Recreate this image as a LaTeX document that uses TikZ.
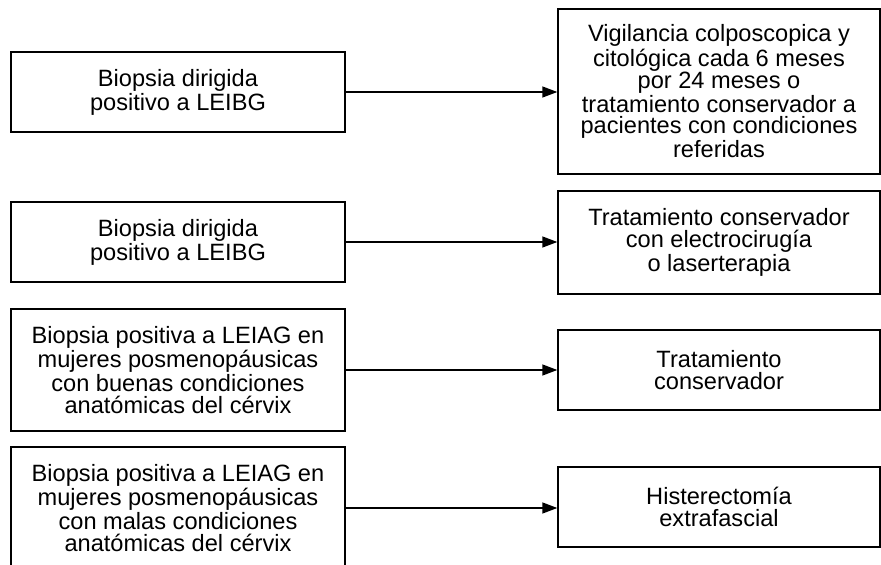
\documentclass[tikz,border=0pt]{standalone}
\usepackage{fontspec}
\setmainfont{Liberation Sans}
\usetikzlibrary{arrows.meta}

\tikzset{
  leftbox/.style={draw,line width=0.7pt,minimum width=167pt,align=center,inner sep=2pt},
  rightbox/.style={draw,line width=0.7pt,minimum width=161pt,align=center,inner sep=2pt},
  link/.style={line width=0.7pt,->}
}

\begin{document}
\begin{tikzpicture}[>={Triangle[length=7.5pt,width=5.5pt]},x=0.5pt,y=-0.5pt,
    font=\fontsize{11.8}{10.9}\selectfont]

  % --- page frame ---
  \clip (0,0) rectangle (881,565);

  % --- findings (left column) ---
  \node[leftbox,minimum height=40pt] (bx1) at (178,92)
        {Biopsia dirigida\\positivo a LEIBG};
  \node[leftbox,minimum height=40pt] (bx2) at (178,242)
        {Biopsia dirigida\\positivo a LEIBG};
  \node[leftbox,minimum height=61pt] (bx3) at (178,370)
        {Biopsia positiva a LEIAG en\\mujeres posmenopáusicas\\con buenas condiciones\\anatómicas del cérvix};
  \node[leftbox,minimum height=61pt] (bx4) at (178,508)
        {Biopsia positiva a LEIAG en\\mujeres posmenopáusicas\\con malas condiciones\\anatómicas del cérvix};

  % --- management (right column) ---
  \node[rightbox,minimum height=82.5pt] (tx1) at (719,91.5)
        {Vigilancia colposcopica y\\citológica cada 6 meses\\por 24 meses o\\tratamiento conservador a\\pacientes con condiciones\\referidas};
  \node[rightbox,minimum height=51.5pt] (tx2) at (719,242.5)
        {Tratamiento conservador\\con electrocirugía\\o laserterapia};
  \node[rightbox,minimum height=40pt] (tx3) at (719,370)
        {Tratamiento\\conservador};
  \node[rightbox,minimum height=40pt] (tx4) at (719,507)
        {Histerectomía\\extrafascial};

  % --- arrows ---
  \draw[link] (bx1.east) -- (bx1.east -| tx1.west);
  \draw[link] (bx2.east) -- (bx2.east -| tx2.west);
  \draw[link] (bx3.east) -- (bx3.east -| tx3.west);
  \draw[link] (bx4.east) -- (bx4.east -| tx4.west);

\end{tikzpicture}
\end{document}
